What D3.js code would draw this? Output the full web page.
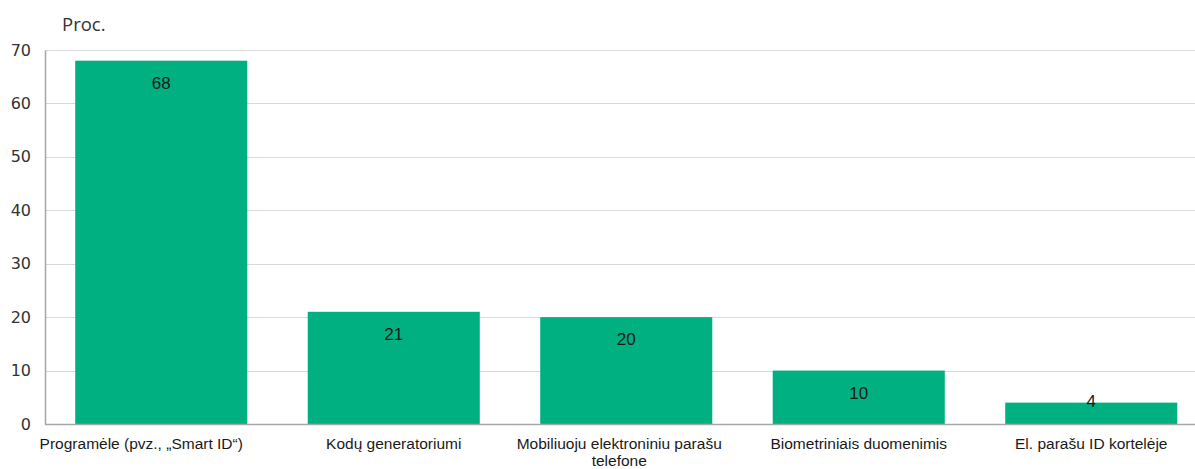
<!DOCTYPE html>
<html>
<head>
<meta charset="utf-8">
<script src="https://cdn.jsdelivr.net/npm/d3@7"></script>
<style>
  body { margin: 0; background: #fff; }
  svg { display: block; }
</style>
</head>
<body>
<div id="chart"></div>
<script>
// Duomenys
var categories = [
  ["Programėle (pvz., „Smart ID“)"],
  ["Kodų generatoriumi"],
  ["Mobiliuoju elektroniniu parašu", "telefone"],
  ["Biometriniais duomenimis"],
  ["El. parašu ID kortelėje"]
];
var values = [68, 21, 20, 10, 4];
var yTicks = [0, 10, 20, 30, 40, 50, 60, 70];
var unitLabel = "Proc.";

var width = 1195, height = 469;
var plotLeft = 45, plotBottom = 424, plotTop = 50;

var svg = d3.select("#chart").append("svg")
  .attr("width", width)
  .attr("height", height);

var x = d3.scaleBand()
  .domain(d3.range(values.length))
  .range([plotLeft, plotLeft + 232.5 * values.length])
  .paddingInner(0.26)
  .paddingOuter(0.13);

var y = d3.scaleLinear()
  .domain([0, 70])
  .range([plotBottom, plotTop]);

// Tinklelis
svg.append("g")
  .selectAll("line")
  .data(yTicks.slice(1))
  .enter().append("line")
  .attr("x1", plotLeft)
  .attr("x2", width)
  .attr("y1", function (d) { return Math.round(y(d)) + 0.5; })
  .attr("y2", function (d) { return Math.round(y(d)) + 0.5; })
  .attr("stroke", "#d9d9d9")
  .attr("stroke-width", 1);

// Y ašis
var yAxis = svg.append("g")
  .attr("transform", "translate(" + plotLeft + ",0)")
  .call(d3.axisLeft(y).tickValues(yTicks).tickSize(0).tickPadding(14));
yAxis.select(".domain").attr("stroke", "#a6a6a6").attr("stroke-width", 1.5);
yAxis.selectAll("text")
  .attr("font-family", "DejaVu Sans, Verdana, sans-serif")
  .attr("font-size", 16)
  .attr("fill", "#333");

// Stulpeliai
svg.append("g")
  .selectAll("rect")
  .data(values)
  .enter().append("rect")
  .attr("x", function (d, i) { return x(i); })
  .attr("y", function (d) { return y(d); })
  .attr("width", x.bandwidth())
  .attr("height", function (d) { return y(0) - y(d); })
  .attr("fill", "#00b080");

// X ašies linija
svg.append("line")
  .attr("x1", plotLeft)
  .attr("x2", width)
  .attr("y1", plotBottom + 0.5)
  .attr("y2", plotBottom + 0.5)
  .attr("stroke", "#a6a6a6")
  .attr("stroke-width", 1.5);

// Reikšmių etiketės
svg.append("g")
  .selectAll("text")
  .data(values)
  .enter().append("text")
  .attr("x", function (d, i) { return x(i) + x.bandwidth() / 2; })
  .attr("y", function (d) { return Math.min(y(d) + 22, plotBottom - 23); })
  .attr("dy", "0.35em")
  .attr("text-anchor", "middle")
  .attr("font-family", "Liberation Sans, Arial, sans-serif")
  .attr("font-size", 17)
  .attr("fill", "#1a1a1a")
  .text(function (d) { return d; });

// Kategorijų etiketės (pirma pastumta į kairę kaip originale)
var cat = svg.append("g")
  .selectAll("text")
  .data(categories)
  .enter().append("text")
  .attr("y", plotBottom + 20)
  .attr("text-anchor", "middle")
  .attr("font-family", "Liberation Sans, Arial, sans-serif")
  .attr("font-size", 15.5)
  .attr("fill", "#1a1a1a");

cat.each(function (lines, i) {
  var t = d3.select(this);
  var shift = i === 0 ? -20 : (lines.length > 1 ? -7 : 0);
  lines.forEach(function (line, j) {
    t.append("tspan")
      .attr("x", x(i) + x.bandwidth() / 2 + shift)
      .attr("dy", j === 0 ? "0.35em" : "1.08em")
      .text(line);
  });
});

// Vienetai
svg.append("text")
  .attr("x", 62)
  .attr("y", 31)
  .attr("font-family", "Open Sans, DejaVu Sans, sans-serif")
  .attr("font-size", 18.5)
  .attr("fill", "#333")
  .text(unitLabel);
</script>
</body>
</html>
